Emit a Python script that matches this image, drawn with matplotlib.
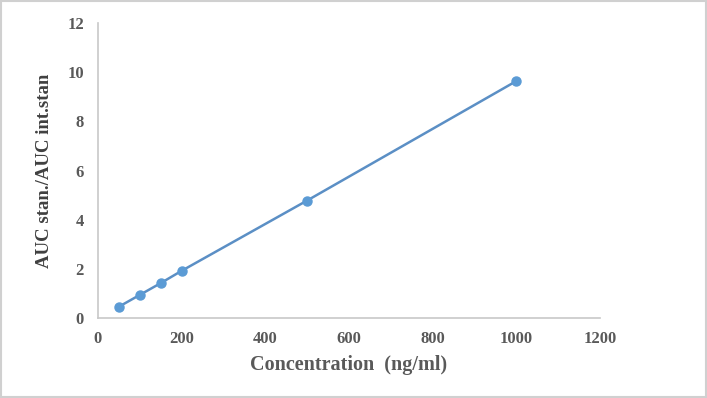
import matplotlib
matplotlib.use("Agg")
import matplotlib.pyplot as plt
from matplotlib.patches import Rectangle

# calibration curve data
conc = [50, 100, 150, 200, 500, 1000]
ratio = [0.46, 0.94, 1.42, 1.92, 4.78, 9.64]
x_ticks = [0, 200, 400, 600, 800, 1000, 1200]
y_ticks = [0, 2, 4, 6, 8, 10, 12]

plt.rcParams['font.family'] = ['Liberation Serif', 'DejaVu Serif']

fig = plt.figure(figsize=(7.07, 3.98), dpi=100)
ax = fig.add_axes([0.1386, 0.201, 0.71, 0.741])

ax.plot(conc, ratio, color='#5b8fc5', linewidth=1.8,
        marker='o', markersize=6.5, markerfacecolor='#5b9bd5',
        markeredgecolor='#5b9bd5')

ax.set_xlim(0, 1200)
ax.set_ylim(0, 12)
ax.set_xticks(x_ticks)
ax.set_yticks(y_ticks)
ax.tick_params(length=0, labelsize=12, labelcolor='#595959')
ax.tick_params(axis='y', pad=10)
ax.tick_params(axis='x', pad=9)
for lab in ax.get_xticklabels() + ax.get_yticklabels():
    lab.set_fontweight('bold')

for s in ['top', 'right']:
    ax.spines[s].set_visible(False)
for s in ['left', 'bottom']:
    ax.spines[s].set_color('#c8c8c8')
    ax.spines[s].set_linewidth(1.2)

ax.set_xlabel('Concentration  (ng/ml)', fontsize=14.5, fontweight='bold',
              color='#595959', labelpad=6)
ax.set_ylabel('AUC stan./AUC int.stan', fontsize=13.5, fontweight='bold',
              color='#404040', labelpad=10)

# light frame round the chart area
fig.patches.append(Rectangle((0.002, 0.003), 0.996, 0.994,
                             transform=fig.transFigure, fill=False,
                             edgecolor='#d0d0d0', linewidth=1.5))

fig.savefig('out.png', dpi=100)
